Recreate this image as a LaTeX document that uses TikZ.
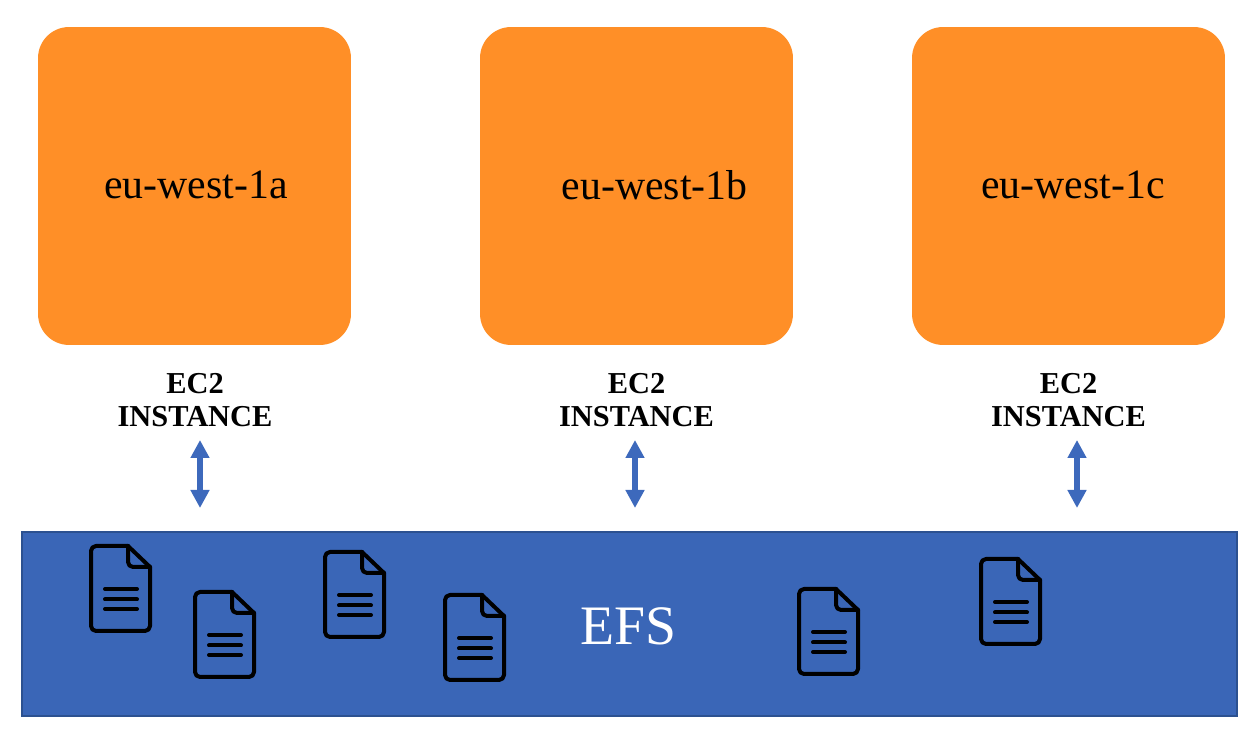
\documentclass[tikz,border=0pt]{standalone}
\usepackage{fontspec}
\setmainfont{Liberation Serif}
\usetikzlibrary{arrows.meta}

\definecolor{zoneorange}{HTML}{FF8F27}
\definecolor{efsblue}{HTML}{3A66B7}
\definecolor{efsedge}{HTML}{2C5190}
\definecolor{linkblue}{HTML}{3D69BC}

\begin{document}
\begin{tikzpicture}[x=0.02cm,y=-0.02cm,
    zone node/.style={draw=none,fill=zoneorange,rounded corners=0.62cm,minimum width=6.26cm,minimum height=6.36cm,inner sep=0pt},
    zone label/.style={font=\fontsize{23.8}{28}\selectfont,inner sep=0pt},
    inst label/.style={font=\fontsize{17.3}{18.8}\selectfont\bfseries,align=center,inner sep=0pt},
    link/.style={line width=0.12cm,draw=linkblue,{Triangle[length=0.36cm,width=0.36cm]}-{Triangle[length=0.36cm,width=0.36cm]}},
    doc line/.style={line width=0.08cm,line join=round,line cap=round,draw=black},
    pics/docicon/.style={code={
      \draw[doc line,rounded corners=0.1cm] (37,0) -- (0,0) -- (0,85) -- (59,85) -- (59,21);
      \draw[doc line] (37,0) -- (59,21);
      \draw[doc line,rounded corners=0.1cm] (37,0) -- (37,21) -- (59,21);
      \foreach \ly in {43,53.5,63}
        \draw[doc line] (14,\ly) -- (46,\ly);
    }}]

  \useasboundingbox (0,0) rectangle (1258,732);

  \node[zone node] (zonea) at (194.5,186) {};
  \node[zone node] (zoneb) at (636.5,186) {};
  \node[zone node] (zonec) at (1068.5,186) {};
  \node[zone label] at (196,185) {eu-west-1a};
  \node[zone label] at (654.5,185) {eu-west-1b};
  \node[zone label] at (1073,185) {eu-west-1c};

  \node[inst label] (insta) at (195,400) {EC2\\INSTANCE};
  \node[inst label] (instb) at (636.5,400) {EC2\\INSTANCE};
  \node[inst label] (instc) at (1068.5,400) {EC2\\INSTANCE};

  \node[draw=efsedge,line width=0.05cm,fill=efsblue,minimum width=24.3cm,minimum height=3.68cm,inner sep=0pt] (efs) at (629.5,624) {};
  \node[text=white,font=\fontsize{31.7}{36}\selectfont,inner sep=0pt] (efslabel) at (628,626) {EFS};

  \coordinate (topa) at (200,440);
  \coordinate (bota) at (200,508);
  \coordinate (topb) at (635,440);
  \coordinate (botb) at (635,508);
  \coordinate (topc) at (1077,440);
  \coordinate (botc) at (1077,508);

  \draw[link] (topa) -- (bota);
  \draw[link] (topb) -- (botb);
  \draw[link] (topc) -- (botc);

  \foreach \dx/\dy in {91/546,195/592,325/552,445/595,799/589,981/559}
    \pic at (\dx,\dy) {docicon};
\end{tikzpicture}
\end{document}
